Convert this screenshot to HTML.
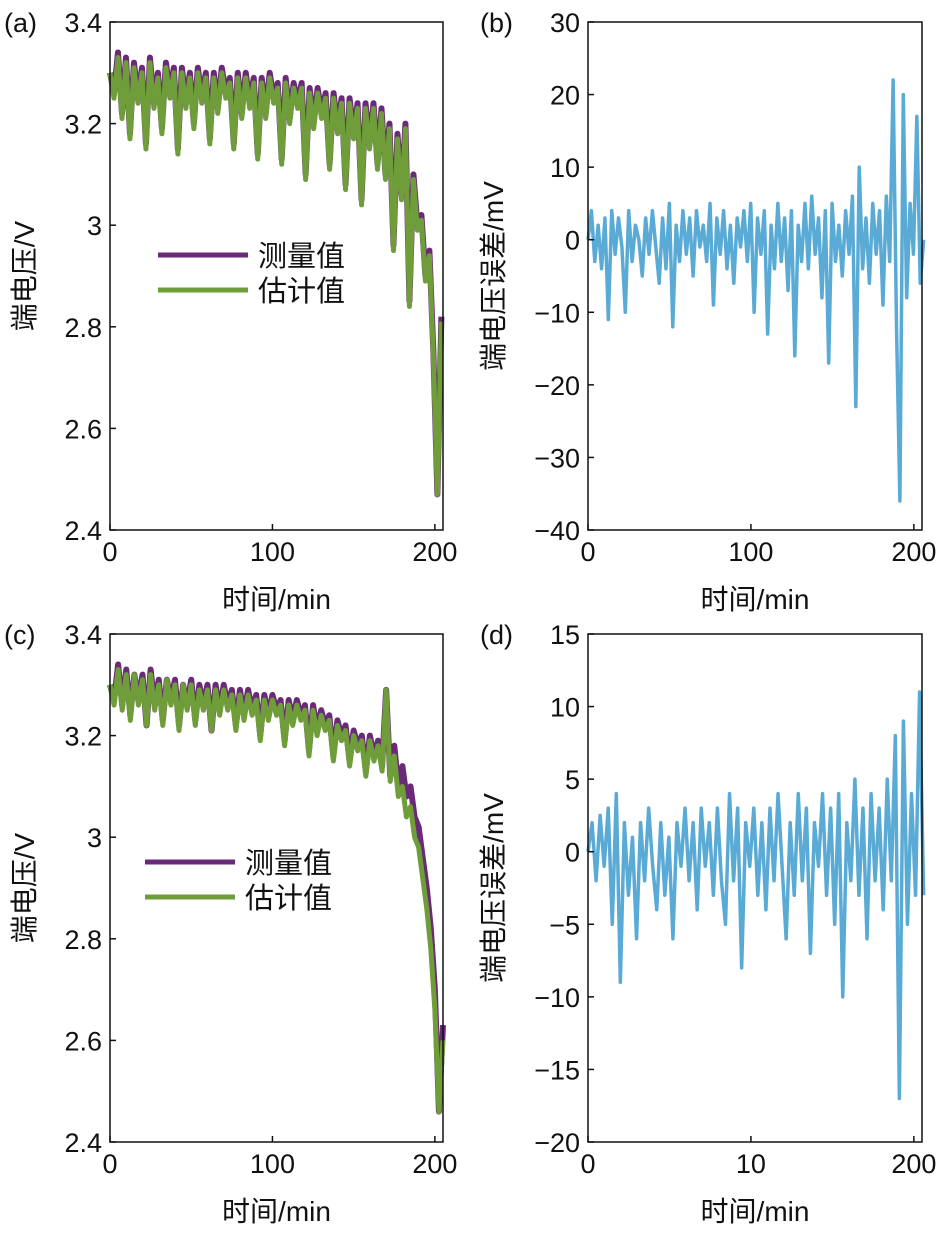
<!DOCTYPE html>
<html><head><meta charset="utf-8"><style>
body{margin:0;background:#fff;width:946px;height:1233px;overflow:hidden}
svg text{font-family:"Liberation Sans","Noto Sans CJK SC",sans-serif;fill:#111}
</style></head><body>
<svg id="c" width="946" height="1233" xmlns="http://www.w3.org/2000/svg"></svg>
<script>
const stepA = 2.5;
const measA=[3.30,3.26,3.34,3.22,3.33,3.18,3.32,3.25,3.31,3.16,3.33,3.24,3.30,3.19,3.32,3.26,3.31,3.15,3.31,3.24,3.30,3.20,3.31,3.25,3.30,3.17,3.30,3.23,3.31,3.26,3.29,3.16,3.30,3.22,3.30,3.24,3.29,3.14,3.29,3.22,3.30,3.25,3.28,3.13,3.29,3.21,3.28,3.24,3.28,3.10,3.27,3.20,3.27,3.22,3.26,3.12,3.26,3.19,3.25,3.08,3.25,3.18,3.24,3.05,3.24,3.16,3.24,3.12,3.23,3.10,3.20,2.96,3.18,3.06,3.20,2.85,3.10,3.00,3.02,2.90,2.95,2.75,2.47,2.82];
const estA=[3.30,3.25,3.33,3.21,3.32,3.17,3.31,3.24,3.30,3.15,3.32,3.23,3.29,3.18,3.31,3.25,3.30,3.14,3.30,3.23,3.29,3.19,3.30,3.24,3.29,3.16,3.29,3.22,3.30,3.25,3.28,3.15,3.29,3.21,3.29,3.23,3.28,3.13,3.28,3.21,3.29,3.24,3.27,3.12,3.28,3.20,3.27,3.23,3.27,3.09,3.26,3.19,3.26,3.21,3.25,3.11,3.25,3.18,3.24,3.07,3.24,3.17,3.23,3.04,3.23,3.15,3.23,3.11,3.22,3.09,3.19,2.95,3.17,3.05,3.19,2.84,3.09,2.99,3.01,2.89,2.94,2.74,2.47,2.81];
const stepB = 2;
const errB=[0,4,-3,2,-4,3,-11,4,-2,3,-1,-10,4,-3,2,0,-5,3,-2,4,-1,-6,3,-4,5,-12,2,-3,4,-2,3,-5,4,-1,2,-3,5,-9,3,-2,4,-4,2,-6,3,-1,4,-3,5,-10,3,-2,4,-13,2,-4,5,-3,3,-7,4,-16,2,-3,5,-4,6,-2,3,-8,4,-17,5,-3,2,-5,4,-2,6,-23,10,-4,3,-6,5,-2,4,-9,6,-3,22,-12,-36,20,-8,5,-2,17,-6,0];
const measC=[3.30,3.27,3.34,3.26,3.33,3.24,3.32,3.27,3.32,3.22,3.33,3.26,3.31,3.23,3.31,3.27,3.31,3.22,3.30,3.26,3.31,3.23,3.30,3.26,3.30,3.21,3.30,3.25,3.30,3.26,3.29,3.22,3.29,3.24,3.29,3.25,3.28,3.20,3.28,3.24,3.28,3.25,3.27,3.19,3.27,3.23,3.27,3.24,3.26,3.17,3.26,3.21,3.25,3.22,3.24,3.16,3.23,3.20,3.22,3.15,3.21,3.18,3.20,3.13,3.20,3.16,3.19,3.14,3.29,3.12,3.18,3.10,3.14,3.08,3.10,3.04,3.02,2.96,2.90,2.82,2.70,2.46,2.63];
const estC=[3.30,3.26,3.33,3.25,3.32,3.23,3.32,3.26,3.31,3.22,3.32,3.25,3.30,3.22,3.31,3.26,3.30,3.21,3.30,3.25,3.30,3.22,3.29,3.25,3.29,3.21,3.29,3.24,3.29,3.25,3.28,3.21,3.28,3.23,3.28,3.24,3.27,3.19,3.27,3.23,3.27,3.24,3.26,3.18,3.26,3.22,3.26,3.23,3.25,3.16,3.25,3.20,3.24,3.21,3.23,3.15,3.22,3.19,3.21,3.14,3.20,3.17,3.19,3.12,3.19,3.15,3.18,3.13,3.29,3.11,3.16,3.08,3.10,3.04,3.06,3.00,2.98,2.92,2.86,2.78,2.66,2.46,2.60];
const errD=[0,2,-2,2.5,-1,3,-5,4,-9,2,-3,1,-6,2,-2,3,-1,-4,2,-3,1,-6,2,-1,3,-2,2,-4,3,-1,2,-3,3,-2,-5,4,-2,3,-8,2,-1,3,-3,2,-4,3,-2,4,-1,-6,2,-3,4,-2,3,-7,2,-1,4,-3,3,-5,4,-10,2,-2,5,-3,3,-6,4,-2,3,-4,5,-2,8,-17,9,-5,4,-3,11,-3];
const yTicksA=["3.4","3.2","3","2.8","2.6","2.4"], yValsA=[3.4,3.2,3.0,2.8,2.6,2.4];
const xTicks=["0","100","200"], xVals=[0,100,200];
const xTicksD=["0","10","200"];
const yValsB=[30,20,10,0,-10,-20,-30,-40], yValsD=[15,10,5,0,-5,-10,-15,-20];

const S=document.getElementById('c'),NS="http://www.w3.org/2000/svg";
function el(t,a,p){const e=document.createElementNS(NS,t);for(const k in a)e.setAttribute(k,a[k]);(p||S).appendChild(e);return e;}
function panel(o){
 const g=el('g',{});
 
 
 const X=v=>o.x0+(v-0)/o.xmax*(o.x1-o.x0), Y=v=>o.y1-(v-o.ymin)/(o.ymax-o.ymin)*(o.y1-o.y0);
 o.series.forEach(s=>{
  const pts=s.d.map((v,i)=>X(i*o.tend/(s.d.length-1))+','+Y(v)).join(' ');
  const p=el('polyline',{points:pts,fill:'none',stroke:s.c,'stroke-width':s.w,'stroke-linejoin':'round'},g);
  
  
 });
 const r=el('rect',{x:o.x0,y:o.y0,width:o.x1-o.x0,height:o.y1-o.y0,fill:'none',stroke:'#111','stroke-width':1.5},g);
 
 
 o.yv.forEach((v,i)=>{
  el('line',{x1:o.x0,x2:o.x0+6,y1:Y(v),y2:Y(v),stroke:'#111','stroke-width':1.5},g);
  const t=el('text',{x:o.x0-8,y:Y(v)+10,'font-size':27,'text-anchor':'end'},g);t.textContent=o.yl[i];
  
  
 });
 xVals.forEach((v,i)=>{
  el('line',{x1:X(v),x2:X(v),y1:o.y1,y2:o.y1-6,stroke:'#111','stroke-width':1.5},g);
  const t=el('text',{x:X(v),y:o.y1+31,'font-size':27,'text-anchor':'middle'},g);t.textContent=o.xl[i];
  
  
 });
 const xt=el('text',{x:(o.x0+o.x1)/2,y:o.y1+79,'font-size':28,'text-anchor':'middle'},g);xt.textContent='时间/min';
 
 
 const cy=(o.y0+o.y1)/2+(o.yoff||0);
 const yt=el('text',{x:o.ytx,y:cy,'font-size':28,'text-anchor':'middle',transform:`rotate(-90 ${o.ytx} ${cy})`},g);yt.textContent=o.yt;
 
 
 const lb=el('text',{x:o.lx,y:o.y0+10,'font-size':27},g);lb.textContent=o.lab;
 
 
 if(o.leg){
  const lg=el('g',{},g);
  
  
  el('rect',{x:o.leg[0]-15,y:o.leg[1]-30,width:220,height:90,fill:'#fff'},lg);
  [['测量值','#6a2a78'],['估计值','#6e9d3a']].forEach((e,i)=>{
   const yy=o.leg[1]+i*35;
   el('line',{x1:o.leg[0],x2:o.leg[0]+90,y1:yy,y2:yy,stroke:e[1],'stroke-width':5},lg);
   const t=el('text',{x:o.leg[0]+100,y:yy+11,'font-size':29},lg);t.textContent=e[0];
   
   
  });
 }
}
panel({name:'panel-a',x0:110,x1:443,y0:22,y1:530,xmax:205,tend:204,ymin:2.4,ymax:3.4,yv:yValsA,yl:yTicksA,xl:xTicks,yt:'端电压/V',ytx:34,yoff:0,lab:'(a)',lx:4,leg:[158,255],
 series:[{d:measA,c:'#6a2a78',w:6,n:'measured-line'},{d:estA,c:'#6e9d3a',w:5,n:'estimated-line'}]});
panel({name:'panel-b',x0:588,x1:922,y0:22,y1:530,xmax:205,tend:206,ymin:-40,ymax:30,yv:yValsB,yl:yValsB.map(v=>v<0?'\u2212'+(-v):''+v),xl:xTicks,yt:'端电压误差/mV',ytx:503,lab:'(b)',lx:480,
 series:[{d:errB,c:'#5aaad6',w:3.5,n:'error-line'}]});
panel({name:'panel-c',x0:110,x1:443,y0:634,y1:1142,xmax:205,tend:205,ymin:2.4,ymax:3.4,yv:yValsA,yl:yTicksA,xl:xTicks,yt:'端电压/V',ytx:34,lab:'(c)',lx:4,leg:[145,862],
 series:[{d:measC,c:'#6a2a78',w:6,n:'measured-line'},{d:estC,c:'#6e9d3a',w:5,n:'estimated-line'}]});
panel({name:'panel-d',x0:588,x1:922,y0:634,y1:1142,xmax:205,tend:206,ymin:-20,ymax:15,yv:yValsD,yl:yValsD.map(v=>v<0?'\u2212'+(-v):''+v),xl:xTicksD,yt:'端电压误差/mV',ytx:503,lab:'(d)',lx:480,
 series:[{d:errD,c:'#5aaad6',w:3.5,n:'error-line'}]});
</script>
</body></html>
